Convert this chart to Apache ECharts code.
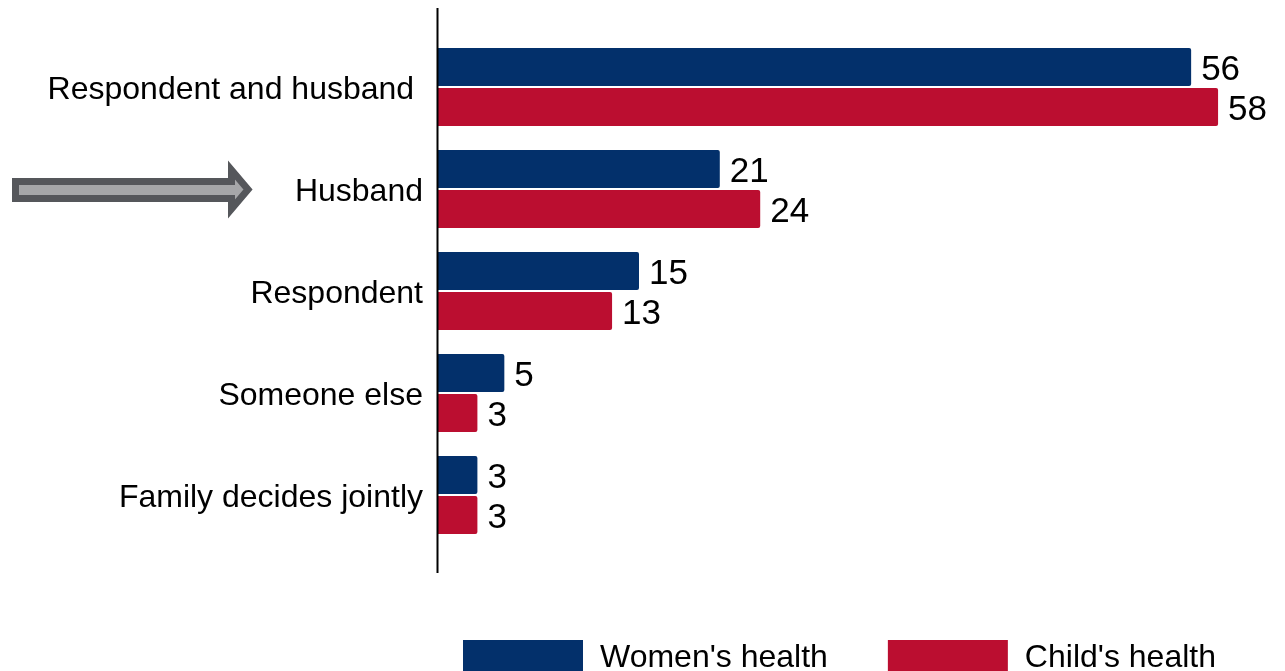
<!DOCTYPE html>
<html>
<head>
<meta charset="utf-8">
<title>Who makes decisions about health care</title>
<script src="https://cdn.jsdelivr.net/npm/echarts@6/dist/echarts.min.js"></script>
<style>
  html, body { margin: 0; padding: 0; background: #ffffff; }
  #chart { width: 1285px; height: 671px; }
</style>
</head>
<body>
<div id="chart"></div>
<script>
// Decision makers, top to bottom
const categories = [
  'Respondent and husband ',
  'Husband',
  'Respondent',
  'Someone else',
  'Family decides jointly'
];
const seriesNames = ["Women's health", "Child's health"];
const womensHealth = [56, 21, 15, 5, 3];
const childsHealth = [58, 24, 13, 3, 3];

const NAVY = '#03306b';
const RED = '#bb0e30';
const FONT = '"Liberation Sans", Arial, sans-serif';

const chart = echarts.init(document.getElementById('chart'), null, { renderer: 'canvas' });

const valueLabel = {
  show: true,
  position: 'right',
  distance: 10,
  offset: [0, 3],
  color: '#000',
  fontFamily: FONT,
  fontSize: 35
};

chart.setOption({
  animation: false,
  backgroundColor: '#ffffff',
  grid: { left: 437, right: 40, top: 36, bottom: 125, containLabel: false },
  xAxis: {
    type: 'value',
    min: 0,
    max: 60,
    show: false
  },
  yAxis: {
    type: 'category',
    data: categories,
    inverse: true,
    axisLine: { show: false },
    axisTick: { show: false },
    axisLabel: {
      margin: 14,
      formatter: '{c|{value}}',
      rich: {
        c: {
          color: '#000',
          fontFamily: FONT,
          fontSize: 32,
          padding: [6, 0, 0, 0]
        }
      }
    }
  },
  legend: {
    data: seriesNames,
    left: 458,
    top: 635,
    itemWidth: 120,
    itemHeight: 36,
    itemGap: 60,
    icon: 'rect',
    textStyle: {
      color: '#000',
      fontFamily: FONT,
      fontSize: 32,
      padding: [0, 0, 0, 12]
    }
  },
  series: [
    {
      name: seriesNames[0],
      type: 'bar',
      data: womensHealth,
      barWidth: 38,
      barGap: '5%',
      itemStyle: { color: NAVY, borderRadius: [0, 2, 2, 0] },
      label: valueLabel
    },
    {
      name: seriesNames[1],
      type: 'bar',
      data: childsHealth,
      barWidth: 38,
      barGap: '5%',
      itemStyle: { color: RED, borderRadius: [0, 2, 2, 0] },
      label: valueLabel
    }
  ],
  graphic: [
    // vertical axis line, running past the category band
    {
      type: 'line',
      shape: { x1: 437.5, y1: 8, x2: 437.5, y2: 573 },
      style: { stroke: '#000', lineWidth: 2 },
      z: 10
    },
    // pointer arrow beside "Husband"
    {
      type: 'polygon',
      shape: {
        points: [
          [15.5, 181.5], [231.5, 181.5], [231.5, 170], [248, 189.5],
          [231.5, 209], [231.5, 198.5], [15.5, 198.5]
        ]
      },
      style: { fill: '#a6a7a9', stroke: '#55575b', lineWidth: 7, lineJoin: 'miter' }
    }
  ]
});
</script>
</body>
</html>
